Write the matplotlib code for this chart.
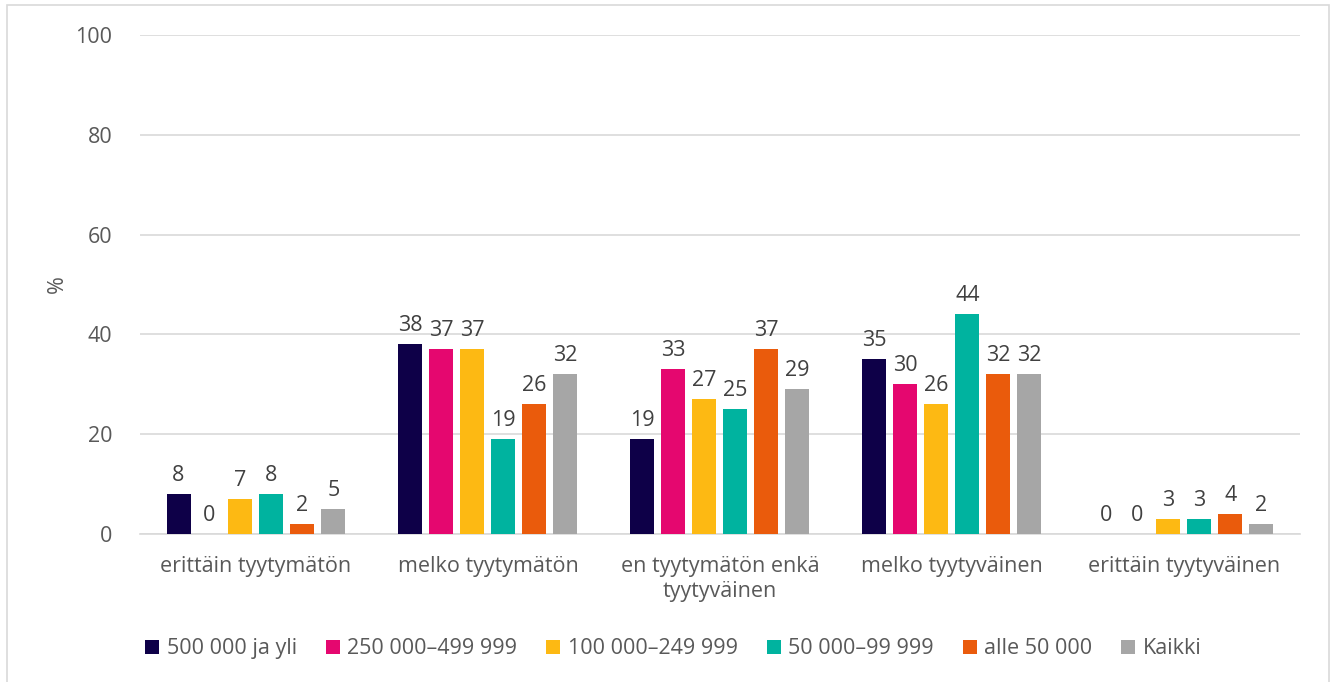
import numpy as np
import matplotlib.pyplot as plt
from matplotlib.patches import Rectangle

# Kategoriat ja sarjat
categories = ["erittäin tyytymätön", "melko tyytymätön", "en tyytymätön enkä\ntyytyväinen",
              "melko tyytyväinen", "erittäin tyytyväinen"]
series = ["500 000 ja yli", "250 000–499 999", "100 000–249 999", "50 000–99 999", "alle 50 000", "Kaikki"]
values_500k = [8, 38, 19, 35, 0]
values_250k = [0, 37, 33, 30, 0]
values_100k = [7, 37, 27, 26, 3]
values_50k = [8, 19, 25, 44, 3]
values_alle50k = [2, 26, 37, 32, 4]
values_kaikki = [5, 32, 29, 32, 2]
colors = ["#0E0048", "#E5076F", "#FDB913", "#00B39F", "#EA5B0C", "#A6A6A6"]

all_values = [values_500k, values_250k, values_100k, values_50k, values_alle50k, values_kaikki]

plt.rcParams['font.family'] = ['Open Sans', 'DejaVu Sans']
fs = 15.5

fig = plt.figure(figsize=(13.36, 6.82), dpi=100)
ax = fig.add_axes([0.1048, 0.217, 0.868, 0.7317])

# Kehys kuvan ympärillä
fig.patches.append(Rectangle((7 / 1336, -0.01), 1322 / 1336, 1 - 5 / 682 + 0.01,
                             transform=fig.transFigure, fill=False,
                             edgecolor="#D9D9D9", linewidth=1.2))

x = np.arange(len(categories))
slot = 0.1336
width = 0.1034
for i, (name, vals, c) in enumerate(zip(series, all_values, colors)):
    pos = x + (i - 2.5) * slot
    ax.bar(pos, vals, width, color=c, label=name, zorder=3)
    for p, v in zip(pos, vals):
        ax.annotate(str(v), (p, v), xytext=(0, 6), textcoords="offset points",
                    ha="center", va="bottom", fontsize=fs, color="#404040")

ax.set_xlim(-0.5, len(categories) - 0.5)
ax.set_ylim(0, 100)
ax.set_yticks(range(0, 101, 20))
ax.yaxis.grid(True, color="#D9D9D9", linewidth=1.2, zorder=0)
ax.set_axisbelow(True)
for s in ["top", "right", "left"]:
    ax.spines[s].set_visible(False)
ax.spines["bottom"].set_color("#D9D9D9")
ax.spines["bottom"].set_linewidth(1.2)
ax.tick_params(axis="both", length=0, labelsize=fs, labelcolor="#595959")
ax.tick_params(axis="y", pad=20)
ax.tick_params(axis="x", pad=16)
ax.set_xticks(x)
ax.set_xticklabels(categories, linespacing=1.25)
fig.text(57 / 1336, 1 - 284 / 682, "%", rotation=90, ha="center", va="center",
         fontsize=fs, color="#595959")

ax.legend(loc="center left", bbox_to_anchor=(-0.012, -0.23), ncol=6, frameon=False,
          fontsize=fs, labelcolor="#595959", handlelength=0.65, handleheight=0.65,
          handletextpad=0.35, columnspacing=1.34)

plt.savefig("out.png", dpi=100)
